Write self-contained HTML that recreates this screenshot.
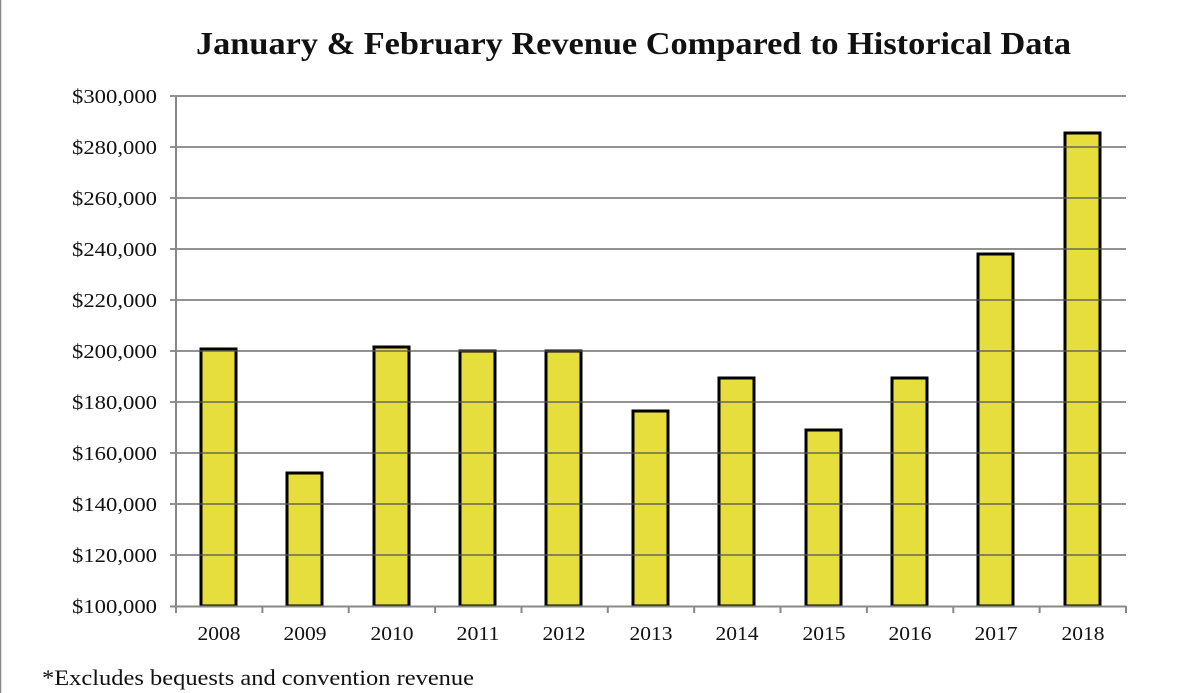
<!DOCTYPE html>
<html><head><style>
html,body{margin:0;padding:0;background:#fff;}
svg{display:block;}
text{font-family:"Liberation Serif",serif;fill:#111;}
</style></head><body>
<svg width="1195" height="693" xmlns="http://www.w3.org/2000/svg">
<rect x="0.5" y="-1" width="1200" height="700" fill="#fff" stroke="#888" stroke-width="1.5"/>
<text x="196" y="54" font-size="32" font-weight="bold" textLength="875" lengthAdjust="spacingAndGlyphs">January &amp; February Revenue Compared to Historical Data</text>
<g id="bars" fill="#E6DE3C" stroke="#000" stroke-width="3">
<rect x="201" y="349" width="35" height="257"/>
<rect x="287" y="473" width="35" height="133"/>
<rect x="374" y="347" width="35" height="259"/>
<rect x="460" y="351" width="35" height="255"/>
<rect x="546" y="351" width="35" height="255"/>
<rect x="633" y="411" width="35" height="195"/>
<rect x="719" y="378" width="35" height="228"/>
<rect x="806" y="430" width="35" height="176"/>
<rect x="892" y="378" width="35" height="228"/>
<rect x="978" y="254" width="35" height="352"/>
<rect x="1065" y="133" width="35" height="473"/>
</g>
<g stroke="#555" stroke-width="1.5" opacity="0.85">
<line x1="170" x2="1126" y1="96" y2="96"/>
<line x1="170" x2="1126" y1="147" y2="147"/>
<line x1="170" x2="1126" y1="198" y2="198"/>
<line x1="170" x2="1126" y1="249" y2="249"/>
<line x1="170" x2="1126" y1="300" y2="300"/>
<line x1="170" x2="1126" y1="351" y2="351"/>
<line x1="170" x2="1126" y1="402" y2="402"/>
<line x1="170" x2="1126" y1="453" y2="453"/>
<line x1="170" x2="1126" y1="504" y2="504"/>
<line x1="170" x2="1126" y1="555" y2="555"/>
</g>
<g stroke="#888" stroke-width="2">
<line x1="176" x2="176" y1="96" y2="607"/>
<line x1="170" x2="1126" y1="606.5" y2="606.5"/>
<line x1="176" x2="176" y1="606" y2="613"/>
<line x1="262.4" x2="262.4" y1="606" y2="613"/>
<line x1="348.7" x2="348.7" y1="606" y2="613"/>
<line x1="435.1" x2="435.1" y1="606" y2="613"/>
<line x1="521.5" x2="521.5" y1="606" y2="613"/>
<line x1="607.8" x2="607.8" y1="606" y2="613"/>
<line x1="694.2" x2="694.2" y1="606" y2="613"/>
<line x1="780.5" x2="780.5" y1="606" y2="613"/>
<line x1="866.9" x2="866.9" y1="606" y2="613"/>
<line x1="953.3" x2="953.3" y1="606" y2="613"/>
<line x1="1039.6" x2="1039.6" y1="606" y2="613"/>
<line x1="1126" x2="1126" y1="606" y2="613"/>
</g>
<g font-size="20">
<text x="72" y="103" textLength="85" lengthAdjust="spacingAndGlyphs">$300,000</text>
<text x="72" y="154" textLength="85" lengthAdjust="spacingAndGlyphs">$280,000</text>
<text x="72" y="205" textLength="85" lengthAdjust="spacingAndGlyphs">$260,000</text>
<text x="72" y="256" textLength="85" lengthAdjust="spacingAndGlyphs">$240,000</text>
<text x="72" y="307" textLength="85" lengthAdjust="spacingAndGlyphs">$220,000</text>
<text x="72" y="358" textLength="85" lengthAdjust="spacingAndGlyphs">$200,000</text>
<text x="72" y="409" textLength="85" lengthAdjust="spacingAndGlyphs">$180,000</text>
<text x="72" y="460" textLength="85" lengthAdjust="spacingAndGlyphs">$160,000</text>
<text x="72" y="511" textLength="85" lengthAdjust="spacingAndGlyphs">$140,000</text>
<text x="72" y="562" textLength="85" lengthAdjust="spacingAndGlyphs">$120,000</text>
<text x="72" y="613" textLength="85" lengthAdjust="spacingAndGlyphs">$100,000</text>
</g>
<g font-size="20" text-anchor="middle">
<text x="219" y="640" textLength="43" lengthAdjust="spacingAndGlyphs">2008</text>
<text x="305" y="640" textLength="43" lengthAdjust="spacingAndGlyphs">2009</text>
<text x="392" y="640" textLength="43" lengthAdjust="spacingAndGlyphs">2010</text>
<text x="478" y="640" textLength="43" lengthAdjust="spacingAndGlyphs">2011</text>
<text x="564" y="640" textLength="43" lengthAdjust="spacingAndGlyphs">2012</text>
<text x="651" y="640" textLength="43" lengthAdjust="spacingAndGlyphs">2013</text>
<text x="737" y="640" textLength="43" lengthAdjust="spacingAndGlyphs">2014</text>
<text x="824" y="640" textLength="43" lengthAdjust="spacingAndGlyphs">2015</text>
<text x="910" y="640" textLength="43" lengthAdjust="spacingAndGlyphs">2016</text>
<text x="996" y="640" textLength="43" lengthAdjust="spacingAndGlyphs">2017</text>
<text x="1083" y="640" textLength="43" lengthAdjust="spacingAndGlyphs">2018</text>
</g>
<text x="42" y="685" font-size="22" textLength="432" lengthAdjust="spacingAndGlyphs">*Excludes bequests and convention revenue</text>
</svg>
</body></html>
